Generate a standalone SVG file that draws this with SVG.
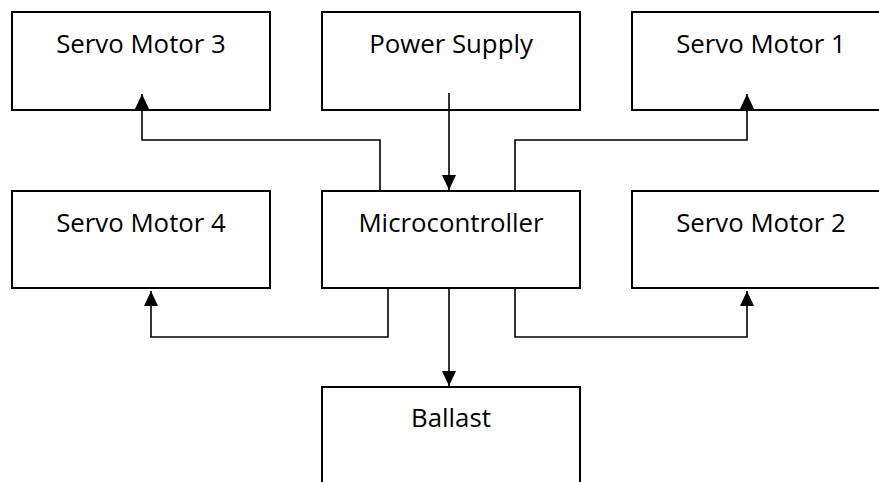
<svg xmlns="http://www.w3.org/2000/svg" width="879" height="482" viewBox="0 0 879 482">
<style>
.box{fill:#fff;stroke:#000;stroke-width:2}
.lbl{font-family:"Open Sans","Liberation Sans",sans-serif;font-size:25.8px;fill:#000;text-anchor:middle}
.con{fill:none;stroke:#000;stroke-width:1.6;marker-end:url(#ah)}
</style>
<defs>
<marker id="ah" markerUnits="userSpaceOnUse" viewBox="0 0 15 14" refX="15" refY="7" markerWidth="15" markerHeight="14" orient="auto">
<path d="M0,0 L15,7 L0,14 z" fill="#000"/>
</marker>
</defs>
<g id="sm3"><rect class="box" x="12" y="12" width="258" height="98"/><text class="lbl" x="141" y="53">Servo Motor 3</text></g>
<g id="power"><rect class="box" x="322" y="12" width="258" height="98"/><text class="lbl" x="451" y="53">Power Supply</text></g>
<g id="sm1"><rect class="box" x="632" y="12" width="260" height="98"/><text class="lbl" x="761" y="53">Servo Motor 1</text></g>
<g id="sm4"><rect class="box" x="12" y="191" width="258" height="97"/><text class="lbl" x="141" y="232">Servo Motor 4</text></g>
<g id="mcu"><rect class="box" x="322" y="191" width="258" height="97"/><text class="lbl" x="451" y="232">Microcontroller</text></g>
<g id="sm2"><rect class="box" x="632" y="191" width="260" height="97"/><text class="lbl" x="761" y="232">Servo Motor 2</text></g>
<g id="ballast"><rect class="box" x="322" y="387" width="258" height="110"/><text class="lbl" x="451" y="427">Ballast</text></g>
<g id="connectors">
<path class="con" d="M449 93 V190"/>
<path class="con" d="M380 191 V140 H142 V94"/>
<path class="con" d="M515 191 V140 H747 V94"/>
<path class="con" d="M388 288 V337 H151 V291"/>
<path class="con" d="M515 288 V337 H747 V291"/>
<path class="con" d="M449 288 V386"/>
</g>
</svg>
